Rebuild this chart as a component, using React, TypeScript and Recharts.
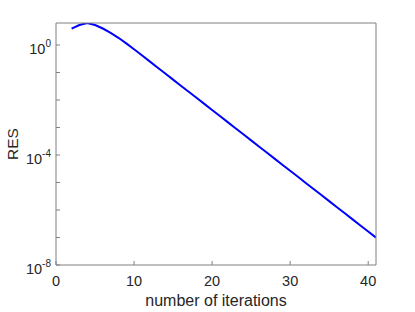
import { LineChart, Line, XAxis, YAxis, Label } from "recharts";

const iterations = [
  2, 3, 4, 5, 6, 7, 8, 9, 10, 11, 12, 13, 14, 15, 16, 17, 18, 19, 20, 21, 22,
  23, 24, 25, 26, 27, 28, 29, 30, 31, 32, 33, 34, 35, 36, 37, 38, 39, 40, 41,
];
const resValues = [
  3.92, 5.34, 6.28, 5.34, 3.98, 2.78, 1.83, 1.15, 0.703, 0.423, 0.254, 0.153,
  0.0918, 0.0552, 0.0332, 0.02, 0.012, 0.00721, 0.00434, 0.00261, 0.00157,
  9.42e-4, 5.66e-4, 3.4e-4, 2.05e-4, 1.23e-4, 7.4e-5, 4.45e-5, 2.67e-5,
  1.61e-5, 9.66e-6, 5.81e-6, 3.49e-6, 2.1e-6, 1.26e-6, 7.59e-7, 4.56e-7,
  2.74e-7, 1.65e-7, 9.91e-8,
];
const xTicks = [0, 10, 20, 30, 40];
const yTicks = [1e-8, 1e-7, 1e-6, 1e-5, 1e-4, 1e-3, 1e-2, 1e-1, 1];
const yLabelExps = [0, -4, -8];

const data = iterations.map((it, i) => ({ it, res: resValues[i] }));

const FONT = "'Liberation Sans', Arial, Helvetica, sans-serif";
const AXIS = "#808080";
const TEXT = "#262626";

const LogTick = (props: any) => {
  const { x, y, payload } = props;
  const exp = Math.round(Math.log10(payload.value));
  if (!yLabelExps.includes(exp)) return null;
  return (
    <text x={x} y={y + 9} textAnchor="end" fill={TEXT} fontFamily={FONT} fontSize={14.5}>
      <tspan>10</tspan>
      <tspan dy={-7} fontSize={10}>{exp}</tspan>
    </text>
  );
};

export default function App() {
  return (
    <div style={{ width: 415, height: 312 }}>
      <style>{`body{margin:0}`}</style>
      <LineChart
        width={415}
        height={312}
        data={data}
        margin={{ top: 22, right: 38, bottom: 0, left: 0 }}
      >
        <XAxis
          dataKey="it"
          type="number"
          domain={[0, 41]}
          allowDataOverflow
          ticks={xTicks}
          height={47}
          stroke={AXIS}
          tickSize={-4}
          tickMargin={15}
          tick={{ fill: TEXT, fontFamily: FONT, fontSize: 14.5 }}
        >
          <Label
            content={(p: any) => {
              const vb = p.viewBox;
              return (
                <text
                  x={vb.x + vb.width / 2}
                  y={306}
                  textAnchor="middle"
                  fill={TEXT}
                  fontFamily={FONT}
                  fontSize={16}
                >
                  number of iterations
                </text>
              );
            }}
          />
        </XAxis>
        <XAxis
          xAxisId="top"
          orientation="top"
          type="number"
          domain={[0, 41]}
          allowDataOverflow
          ticks={xTicks}
          height={1}
          stroke={AXIS}
          tickSize={-4}
          tick={false}
        />
        <YAxis
          scale="log"
          type="number"
          domain={[1e-8, 6.31]}
          allowDataOverflow
          ticks={yTicks}
          width={56}
          stroke={AXIS}
          tickSize={-4}
          tickMargin={9}
          tick={<LogTick />}
        >
          <Label
            content={(p: any) => {
              const vb = p.viewBox;
              const cy = vb.y + vb.height / 2;
              return (
                <text
                  x={12.5}
                  y={cy}
                  transform={`rotate(-90, 12.5, ${cy})`}
                  textAnchor="middle"
                  dominantBaseline="central"
                  fill={TEXT}
                  fontFamily={FONT}
                  fontSize={15.5}
                >
                  RES
                </text>
              );
            }}
          />
        </YAxis>
        <YAxis
          yAxisId="right"
          orientation="right"
          scale="log"
          type="number"
          domain={[1e-8, 6.31]}
          allowDataOverflow
          ticks={yTicks}
          width={1}
          stroke={AXIS}
          tickSize={-4}
          tick={false}
        />
        <Line
          dataKey="res"
          stroke="#0000ff"
          strokeWidth={2}
          dot={false}
          isAnimationActive={false}
        />
      </LineChart>
    </div>
  );
}
